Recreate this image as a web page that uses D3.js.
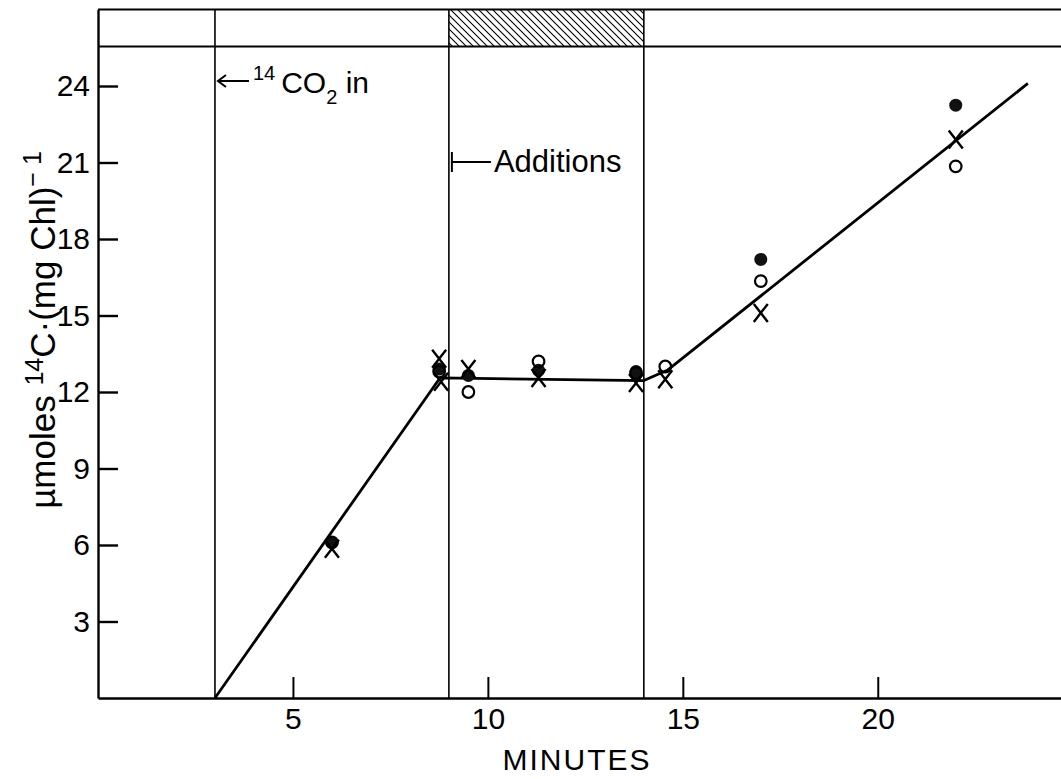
<!DOCTYPE html>
<html>
<head>
<meta charset="utf-8">
<script src="https://cdn.jsdelivr.net/npm/d3@7"></script>
<style>
  html, body { margin: 0; padding: 0; background: #fff; }
  svg { display: block; }
  text { font-family: "Liberation Sans", Arial, sans-serif; fill: #000; }
</style>
</head>
<body>
<svg id="chart" width="1061" height="779"></svg>
<script>
// ---- data ----
const xTicks = [5, 10, 15, 20];
const yTicks = [3, 6, 9, 12, 15, 18, 21, 24];
const eventTimes = [3, 9, 14];          // vertical lines: 14CO2 in, additions start, additions end
const additionStart = 9, additionEnd = 14;

const crossT = [6, 8.75, 8.8, 9.5, 11.3, 13.8, 14.55, 17, 22];
const crossV = [5.85, 13.3, 12.4, 12.9, 12.55, 12.35, 12.5, 15.1, 21.9];
const openT  = [6, 8.75, 9.5, 11.3, 13.8, 14.55, 17, 22];
const openV  = [6.1, 12.8, 12.0, 13.2, 12.75, 13.0, 16.35, 20.85];
const filledT = [6, 8.75, 9.5, 11.3, 13.8, 17, 22];
const filledV = [6.1, 12.9, 12.65, 12.85, 12.8, 17.2, 23.25];

const fitT = [3, 8.77, 14.0, 14.6, 23.85];
const fitV = [0, 12.55, 12.45, 12.85, 24.1];

// ---- layout ----
const svg = d3.select("#chart");
const x = d3.scaleLinear().domain([0, 24.7]).range([98, 1061]);
const y = d3.scaleLinear().domain([0, 27]).range([698, 9.5]);
const bandBottom = 25.55;

// hatch pattern
const defs = svg.append("defs");
const pat = defs.append("pattern").attr("id", "hatch")
  .attr("patternUnits", "userSpaceOnUse").attr("width", 7).attr("height", 7);
pat.append("path").attr("d", "M-1,-1L8,8M-1,6L1,8M6,-1L8,1")
  .attr("stroke", "#000").attr("stroke-width", 1.1);

// top band
svg.append("rect")
  .attr("x", x(additionStart)).attr("y", y(27))
  .attr("width", x(additionEnd) - x(additionStart))
  .attr("height", y(bandBottom) - y(27))
  .attr("fill", "url(#hatch)");
svg.append("line").attr("x1", x(0)).attr("x2", x(24.7))
  .attr("y1", y(27)).attr("y2", y(27)).attr("stroke", "#000").attr("stroke-width", 2.2);
svg.append("line").attr("x1", x(0)).attr("x2", x(24.7))
  .attr("y1", y(bandBottom)).attr("y2", y(bandBottom)).attr("stroke", "#000").attr("stroke-width", 2.2);

// event vertical lines
svg.selectAll(".evt").data(eventTimes).enter().append("line")
  .attr("class", "evt")
  .attr("x1", d => x(d)).attr("x2", d => x(d))
  .attr("y1", y(27)).attr("y2", y(0))
  .attr("stroke", "#000").attr("stroke-width", 1.6);

// axes
const yAxis = d3.axisLeft(y).tickValues(yTicks).tickSizeInner(-20).tickSizeOuter(0).tickPadding(8);
const gy = svg.append("g").attr("transform", `translate(${x(0)},0)`).call(yAxis);
gy.select(".domain").attr("stroke-width", 2.4);
gy.selectAll(".tick line").attr("stroke-width", 2.4);
gy.selectAll(".tick text").attr("font-size", 30).attr("font-family", "Liberation Sans, Arial, sans-serif");

const xAxis = d3.axisBottom(x).tickValues(xTicks).tickSizeInner(-21).tickSizeOuter(0).tickPadding(10);
const gx = svg.append("g").attr("transform", `translate(0,${y(0)})`).call(xAxis);
gx.select(".domain").attr("stroke-width", 2.6);
gx.selectAll(".tick line").attr("stroke-width", 2);
gx.selectAll(".tick text").attr("font-size", 30).attr("font-family", "Liberation Sans, Arial, sans-serif");

// axis titles
svg.append("text").attr("x", 577).attr("y", 770).attr("text-anchor", "middle")
  .attr("font-size", 30).attr("letter-spacing", 2).text("MINUTES");

const yl = svg.append("text").attr("text-anchor", "middle")
  .attr("transform", "translate(55,330) rotate(-90)").attr("font-size", 35);
yl.append("tspan").text("\u00b5moles ");
yl.append("tspan").attr("font-size", 25).attr("dy", -12).text("14");
yl.append("tspan").attr("dy", 12).text("C\u00b7(mg Chl)");
yl.append("tspan").attr("font-size", 25).attr("dy", -14).text("\u2212 1");

// fitted line
const line = d3.line().x((d, i) => x(fitT[i])).y((d, i) => y(fitV[i]));
svg.append("path").attr("d", line(fitT)).attr("fill", "none")
  .attr("stroke", "#000").attr("stroke-width", 2.8).attr("stroke-linejoin", "round");

// markers
svg.selectAll(".filled").data(filledT).enter().append("circle")
  .attr("class", "filled")
  .attr("cx", d => x(d)).attr("cy", (d, i) => y(filledV[i])).attr("r", 6.5)
  .attr("fill", "#111");
svg.selectAll(".open").data(openT).enter().append("circle")
  .attr("class", "open")
  .attr("cx", d => x(d)).attr("cy", (d, i) => y(openV[i])).attr("r", 5.8)
  .attr("fill", "none").attr("stroke", "#000").attr("stroke-width", 2.2);
svg.selectAll(".cross").data(crossT).enter().append("path")
  .attr("class", "cross")
  .attr("transform", (d, i) => `translate(${x(d)},${y(crossV[i])})`)
  .attr("d", "M-7,-9L7,9M7,-9L-7,9")
  .attr("fill", "none").attr("stroke", "#000").attr("stroke-width", 2.4);

// annotation: 14CO2 in
const ay = 81;
svg.append("path")
  .attr("d", `M${x(3) + 3},${ay}L${x(3) + 34},${ay}M${x(3) + 11},${ay - 6}L${x(3) + 3},${ay}L${x(3) + 11},${ay + 6}`)
  .attr("fill", "none").attr("stroke", "#000").attr("stroke-width", 2);
const co = svg.append("text").attr("x", x(3) + 38).attr("y", 93).attr("font-size", 30);
co.append("tspan").attr("font-size", 20).attr("dy", -13).text("14");
co.append("tspan").attr("dy", 13).attr("dx", 6).text("CO");
co.append("tspan").attr("font-size", 20).attr("dy", 11).text("2");
co.append("tspan").attr("dy", -11).text(" in");

// annotation: additions
const adY = 162;
svg.append("path")
  .attr("d", `M${x(additionStart) + 3},${adY - 10}L${x(additionStart) + 3},${adY + 10}M${x(additionStart) + 3},${adY}L${x(additionStart) + 42},${adY}`)
  .attr("fill", "none").attr("stroke", "#000").attr("stroke-width", 2);
svg.append("text").attr("x", x(additionStart) + 45).attr("y", 172).attr("font-size", 31).text("Additions");
</script>
</body>
</html>
